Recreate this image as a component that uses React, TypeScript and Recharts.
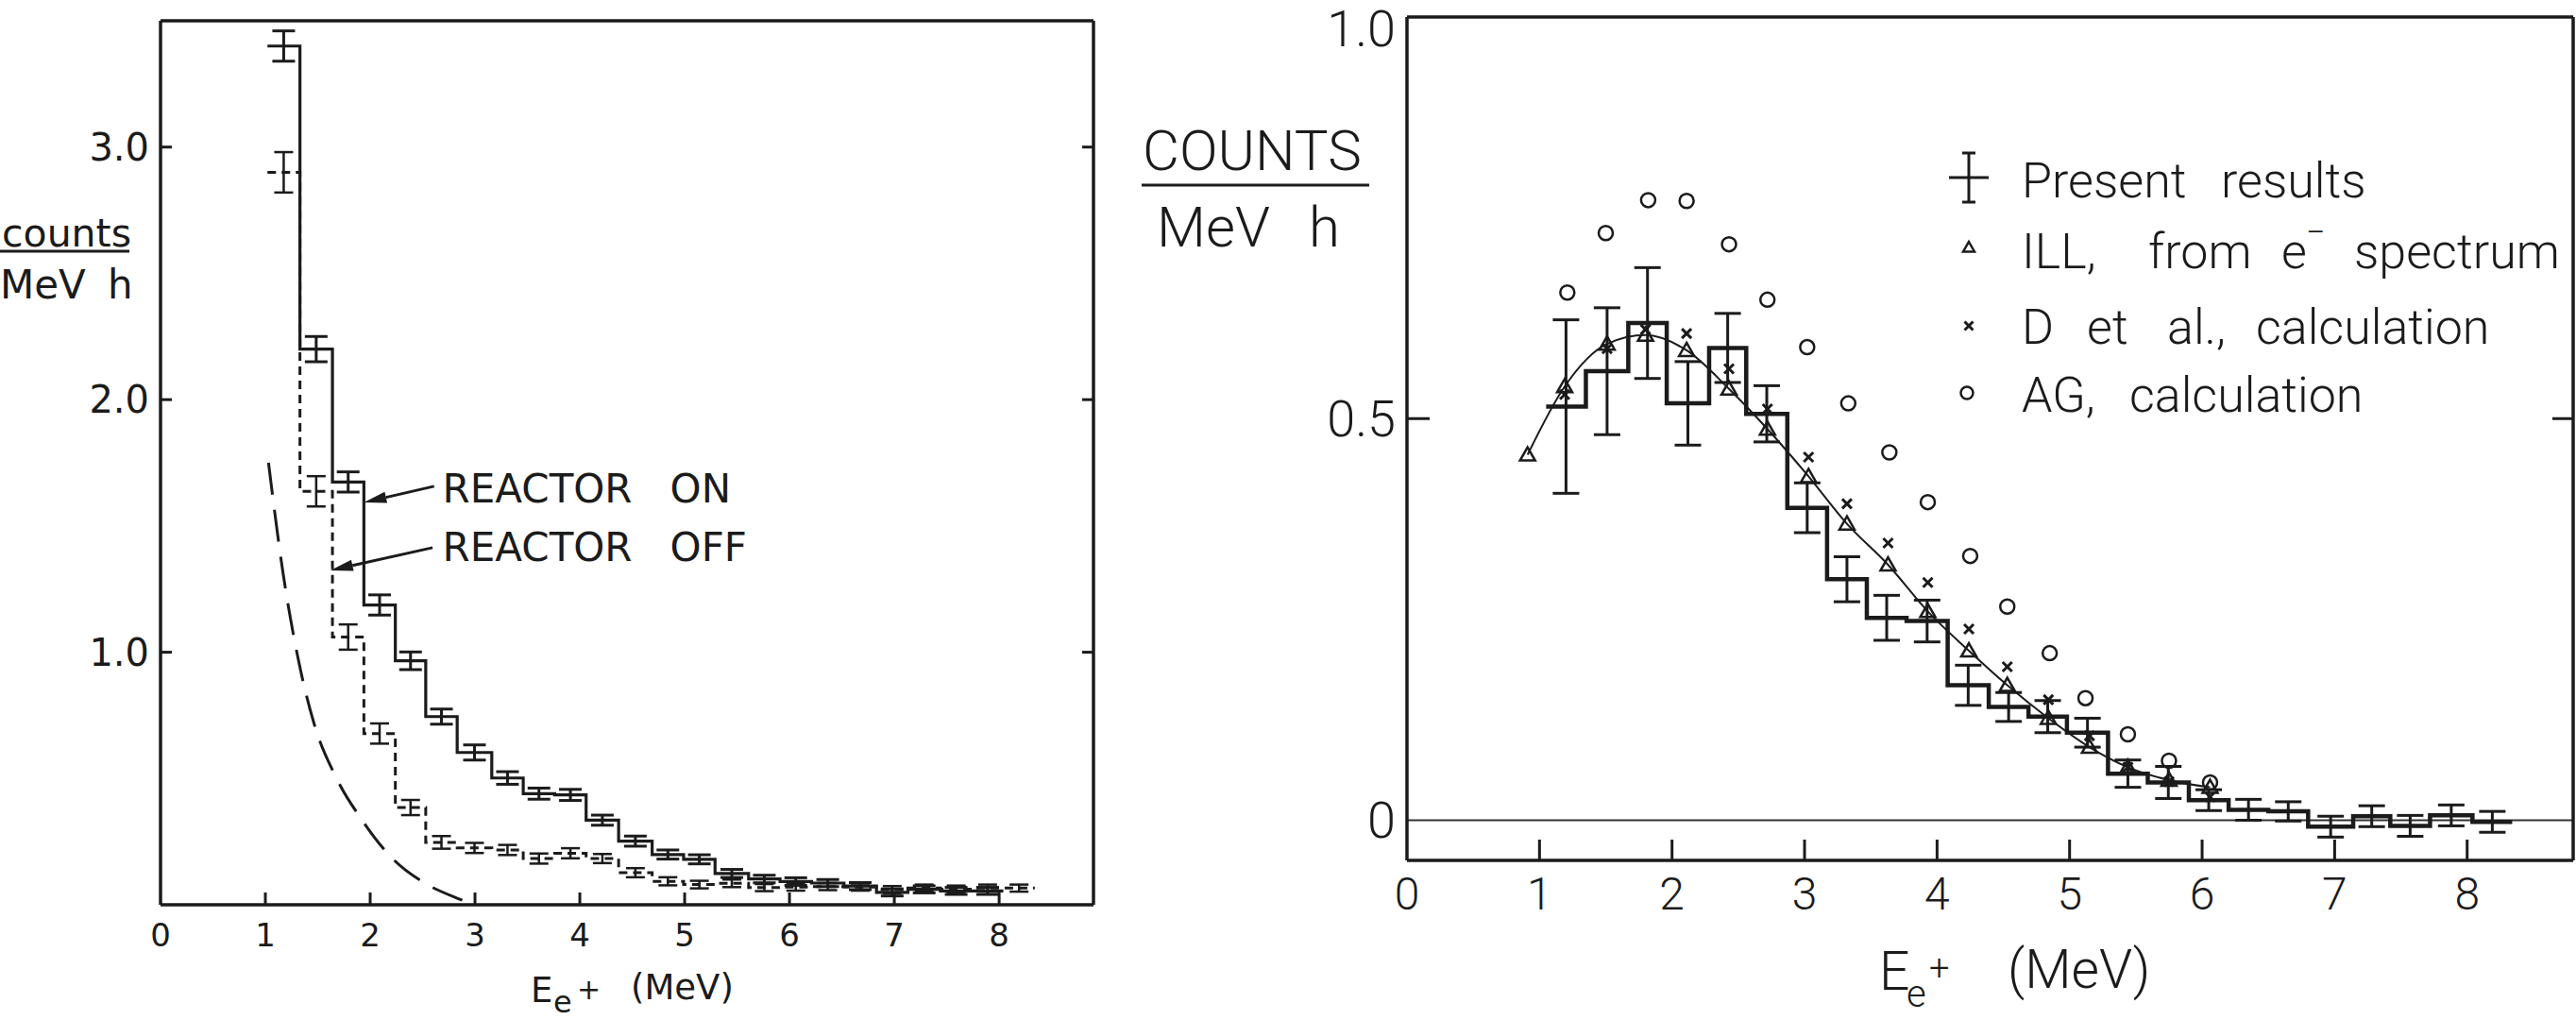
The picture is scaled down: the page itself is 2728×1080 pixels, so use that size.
import {
  ComposedChart,
  Line,
  Scatter,
  XAxis,
  YAxis,
  ErrorBar,
  ReferenceLine,
  ReferenceDot,
  Legend,
  Label,
} from "recharts"

const ink = "#1b1b1b"

// ---------- left panel: e+ spectra, reactor on / off ----------
const leftEdges = [1.02, 1.33, 1.64, 1.94, 2.24, 2.53, 2.83, 3.16, 3.46, 3.76, 4.06, 4.37, 4.69, 4.99, 5.29, 5.61, 5.91, 6.21, 6.52, 6.83, 7.13, 7.44, 7.74, 8.04, 8.34]
const reactorOn = [3.4, 2.2, 1.674, 1.187, 0.966, 0.745, 0.603, 0.502, 0.44, 0.435, 0.335, 0.252, 0.199, 0.18, 0.124, 0.102, 0.092, 0.086, 0.074, 0.049, 0.061, 0.055, 0.055]
const reactorOnErr = [0.06, 0.05, 0.04, 0.04, 0.035, 0.03, 0.03, 0.025, 0.022, 0.022, 0.02, 0.02, 0.018, 0.018, 0.016, 0.015, 0.015, 0.014, 0.014, 0.014, 0.014, 0.014, 0.014]
const reactorOff = [2.9, 1.637, 1.06, 0.678, 0.385, 0.247, 0.225, 0.217, 0.183, 0.204, 0.183, 0.127, 0.093, 0.08, 0.085, 0.068, 0.07, 0.072, 0.07, 0.06, 0.066, 0.062, 0.066, 0.066]
const reactorOffErr = [0.08, 0.06, 0.05, 0.04, 0.03, 0.025, 0.02, 0.02, 0.02, 0.02, 0.018, 0.018, 0.016, 0.015, 0.015, 0.014, 0.014, 0.014, 0.014, 0.014, 0.014, 0.014, 0.014, 0.014]
const bgX = [1.03, 1.17, 1.32, 1.47, 1.68, 1.92, 2.22, 2.52, 2.83, 3.0]
const bgY = [1.75, 1.31, 0.96, 0.71, 0.5, 0.337, 0.18, 0.086, 0.026, 0.0]
const leftXTicks = [0, 1, 2, 3, 4, 5, 6, 7, 8]
const leftYTicks = [1, 2, 3]

// ---------- right panel: comparison with calculations ----------
const rightEdges = [1.05, 1.35, 1.67, 1.96, 2.28, 2.56, 2.87, 3.17, 3.47, 3.77, 4.08, 4.39, 4.69, 4.98, 5.29, 5.59, 5.9, 6.2, 6.5, 6.8, 7.14, 7.42, 7.72, 8.04, 8.34]
const present = [0.515, 0.559, 0.619, 0.519, 0.588, 0.506, 0.389, 0.3, 0.252, 0.248, 0.168, 0.141, 0.129, 0.109, 0.058, 0.047, 0.025, 0.013, 0.011, -0.008, 0.005, -0.007, 0.006, -0.002]
const presentErr = [0.108, 0.079, 0.069, 0.052, 0.043, 0.035, 0.031, 0.028, 0.028, 0.026, 0.025, 0.018, 0.02, 0.018, 0.017, 0.02, 0.013, 0.013, 0.012, 0.013, 0.013, 0.013, 0.013, 0.013]
const illX = [0.91, 1.19, 1.51, 1.8, 2.11, 2.43, 2.72, 3.03, 3.32, 3.63, 3.93, 4.24, 4.53, 4.84, 5.15, 5.44, 5.75, 6.06]
const illY = [0.455, 0.54, 0.593, 0.604, 0.585, 0.537, 0.487, 0.428, 0.369, 0.318, 0.26, 0.211, 0.168, 0.127, 0.091, 0.066, 0.05, 0.041]
const detX = [1.19, 1.51, 1.8, 2.11, 2.43, 2.72, 3.03, 3.32, 3.63, 3.93, 4.24, 4.53, 4.84, 5.15, 5.44, 5.75, 6.06]
const detY = [0.53, 0.587, 0.611, 0.606, 0.562, 0.512, 0.452, 0.394, 0.345, 0.296, 0.238, 0.191, 0.15, 0.105, 0.066, 0.048, 0.029]
const agX = [1.21, 1.5, 1.82, 2.11, 2.43, 2.72, 3.02, 3.33, 3.64, 3.93, 4.25, 4.53, 4.85, 5.12, 5.44, 5.75, 6.06]
const agY = [0.657, 0.731, 0.772, 0.771, 0.717, 0.648, 0.589, 0.519, 0.458, 0.396, 0.329, 0.266, 0.208, 0.152, 0.107, 0.074, 0.047]
const rightXTicks = [0, 1, 2, 3, 4, 5, 6, 7, 8]
const rightYTicks = [0, 0.5, 1]

// histogram outline: one point per left edge, plus the last right edge
const steps = (edges: number[], vals: number[]) =>
  vals.map((y, i) => ({ x: edges[i], y })).concat({ x: edges[vals.length], y: vals[vals.length - 1] })
const bins = (edges: number[], vals: number[], errs: number[]) =>
  vals.map((y, i) => ({ x: (edges[i] + edges[i + 1]) / 2, y, err: errs[i] }))
const pairs = (xs: number[], ys: number[]) => xs.map((x, i) => ({ x, y: ys[i] }))

// ---------- ticks (drawn inward, labels outside) ----------
const bottomTick = (len: number, gap: number, size: number) => (p: any) => (
  <g>
    {p.payload.value !== 0 && (
      <line x1={p.x} y1={p.y} x2={p.x} y2={p.y - len} stroke={ink} strokeWidth={3} />
    )}
    <text x={p.x} y={p.y + gap} textAnchor="middle" fontSize={size} fill={ink}>
      {p.payload.value}
    </text>
  </g>
)
const topTick = (len: number) => (p: any) =>
  p.payload.value === 0 ? <g /> : <line x1={p.x} y1={p.y} x2={p.x} y2={p.y + len} stroke={ink} strokeWidth={3} />
const leftTick =
  (len: number, size: number, dy: (v: number) => number, fmt: (v: number) => string, lines: number[]) =>
  (p: any) => (
    <g>
      {lines.includes(p.payload.value) && (
        <line x1={p.x} y1={p.y} x2={p.x + len} y2={p.y} stroke={ink} strokeWidth={3} />
      )}
      <text x={p.x - 12} y={p.y + dy(p.payload.value)} textAnchor="end" fontSize={size} fill={ink}>
        {fmt(p.payload.value)}
      </text>
    </g>
  )
const rightTick = (len: number, lines: number[]) => (p: any) =>
  lines.includes(p.payload.value) ? (
    <line x1={p.x} y1={p.y} x2={p.x - len} y2={p.y} stroke={ink} strokeWidth={3} />
  ) : (
    <g />
  )

const frame = { stroke: ink, strokeWidth: 3.5 }

// ---------- marks ----------
const Tri = ({ cx, cy, s = 8 }: { cx: number; cy: number; s?: number }) => (
  <path
    d={`M${cx},${cy - s} L${cx + s},${cy + s * 0.75} L${cx - s},${cy + s * 0.75} Z`}
    fill="none"
    stroke={ink}
    strokeWidth={2.5}
  />
)
const Cross = ({ cx, cy, s = 5 }: { cx: number; cy: number; s?: number }) => (
  <path d={`M${cx - s},${cy - s} L${cx + s},${cy + s} M${cx - s},${cy + s} L${cx + s},${cy - s}`} stroke={ink} strokeWidth={3} />
)
const Ring = ({ cx, cy, r = 7.5 }: { cx: number; cy: number; r?: number }) => (
  <circle cx={cx} cy={cy} r={r} fill="none" stroke={ink} strokeWidth={2.5} />
)

const Arrow = (p: any) => {
  const { x1, y1, x2, y2 } = p
  const a = Math.atan2(y2 - y1, x2 - x1)
  const bx = x2 - 24 * Math.cos(a)
  const by = y2 - 24 * Math.sin(a)
  const nx = -Math.sin(a) * 6
  const ny = Math.cos(a) * 6
  return (
    <g>
      <line x1={x1} y1={y1} x2={bx} y2={by} stroke={ink} strokeWidth={3} />
      <polygon points={`${x2},${y2} ${bx + nx},${by + ny} ${bx - nx},${by - ny}`} fill={ink} />
    </g>
  )
}

const reactorText = (word: string) => (p: any) => (
  <text x={p.cx} y={p.cy} fontSize={42} fill={ink}>
    REACTOR
    <tspan x={p.cx + 241}>{word}</tspan>
  </text>
)

function LeftPanel() {
  return (
    <div style={{ position: "absolute", left: 0, top: 0, fontFamily: "'DejaVu Sans', sans-serif" }}>
      <ComposedChart width={1200} height={1080} margin={{ top: 0, right: 0, bottom: 0, left: 0 }}>
        <XAxis
          dataKey="x"
          type="number"
          domain={[0, 8.9]}
          allowDataOverflow
          ticks={leftXTicks}
          interval={0}
          height={122}
          tickSize={0}
          tickMargin={0}
          tickLine={false}
          axisLine={frame}
          tick={bottomTick(13, 44, 34)}
        >
          <Label
            content={(p: any) => {
              const { x, y } = p.viewBox
              return (
                <text fontSize={37} fill={ink}>
                  <tspan x={x + 392} y={y + 103}>E</tspan>
                  <tspan x={x + 416} y={y + 114} fontSize={32}>e</tspan>
                  <tspan x={x + 441} y={y + 100} fontSize={30}>+</tspan>
                  <tspan x={x + 498} y={y + 100}>(MeV)</tspan>
                </text>
              )
            }}
          />
        </XAxis>
        <XAxis
          xAxisId="top"
          orientation="top"
          type="number"
          domain={[0, 8.9]}
          allowDataOverflow
          ticks={leftXTicks}
          interval={0}
          height={22}
          tickSize={0}
          tickMargin={0}
          tickLine={false}
          axisLine={frame}
          tick={topTick(13)}
        />
        <YAxis
          type="number"
          domain={[0, 3.5]}
          allowDataOverflow
          ticks={leftYTicks}
          interval={0}
          width={170}
          tickSize={0}
          tickMargin={0}
          tickLine={false}
          axisLine={frame}
          tick={leftTick(12, 40, () => 14, (v) => v.toFixed(1), leftYTicks)}
        >
          <Label
            content={(p: any) => {
              const { x, y } = p.viewBox
              return (
                <g fill={ink}>
                  <text x={x + 2} y={y + 239} fontSize={41}>counts</text>
                  <line x1={x} y1={y + 244} x2={x + 137} y2={y + 244} stroke={ink} strokeWidth={3} />
                  <text x={x} y={y + 294} fontSize={42}>MeV</text>
                  <text x={x + 114} y={y + 294} fontSize={42}>h</text>
                </g>
              )
            }}
          />
        </YAxis>
        <YAxis
          yAxisId="right"
          orientation="right"
          type="number"
          domain={[0, 3.5]}
          allowDataOverflow
          ticks={leftYTicks}
          interval={0}
          width={42}
          tickSize={0}
          tickMargin={0}
          tickLine={false}
          axisLine={frame}
          tick={rightTick(12, leftYTicks)}
        />

        <Line
          data={pairs(bgX, bgY)}
          dataKey="y"
          type="monotone"
          stroke={ink}
          strokeWidth={3}
          strokeDasharray="34 16"
          dot={false}
          activeDot={false}
          isAnimationActive={false}
        />
        <Line
          data={steps(leftEdges, reactorOff)}
          dataKey="y"
          type="stepAfter"
          stroke={ink}
          strokeWidth={3}
          strokeDasharray="9 6"
          dot={false}
          activeDot={false}
          isAnimationActive={false}
        />
        <Line
          data={steps(leftEdges, reactorOn)}
          dataKey="y"
          type="stepAfter"
          stroke={ink}
          strokeWidth={3.2}
          dot={false}
          activeDot={false}
          isAnimationActive={false}
        />
        <Scatter data={bins(leftEdges, reactorOff, reactorOffErr)} dataKey="y" shape={() => <g />} isAnimationActive={false}>
          <ErrorBar dataKey="err" direction="y" width={10} stroke={ink} strokeWidth={2.5} isAnimationActive={false} />
        </Scatter>
        <Scatter data={bins(leftEdges, reactorOn, reactorOnErr)} dataKey="y" shape={() => <g />} isAnimationActive={false}>
          <ErrorBar dataKey="err" direction="y" width={12} stroke={ink} strokeWidth={3} isAnimationActive={false} />
        </Scatter>

        <ReferenceLine segment={[{ x: 2.61, y: 1.657 }, { x: 1.94, y: 1.593 }]} shape={Arrow} />
        <ReferenceLine segment={[{ x: 2.595, y: 1.414 }, { x: 1.62, y: 1.324 }]} shape={Arrow} />
        <ReferenceDot x={2.69} y={1.593} r={0} shape={reactorText("ON")} />
        <ReferenceDot x={2.69} y={1.361} r={0} shape={reactorText("OFF")} />
      </ComposedChart>
    </div>
  )
}

const LegendBox = () => (
  <svg width={680} height={320} style={{ display: "block" }}>
    <g stroke={ink} strokeWidth={3}>
      <line x1={45} y1={22} x2={45} y2={74} />
      <line x1={38} y1={22} x2={52} y2={22} />
      <line x1={38} y1={74} x2={52} y2={74} />
      <line x1={24} y1={48} x2={66} y2={48} />
    </g>
    <Tri cx={45} cy={122} s={6} />
    <Cross cx={45} cy={205} s={4.5} />
    <Ring cx={43} cy={276} r={6.5} />
    <g fontSize={52} fill={ink}>
      <text y={69}>
        <tspan x={101}>Present</tspan>
        <tspan x={312}>results</tspan>
      </text>
      <text y={144}>
        <tspan x={101}>ILL,</tspan>
        <tspan x={235}>from</tspan>
        <tspan x={376}>e</tspan>
        <tspan x={402} y={118} fontSize={36}>−</tspan>
        <tspan x={453} y={144}>spectrum</tspan>
      </text>
      <text y={224}>
        <tspan x={101}>D</tspan>
        <tspan x={170}>et</tspan>
        <tspan x={255}>al.,</tspan>
        <tspan x={349}>calculation</tspan>
      </text>
      <text y={296}>
        <tspan x={101}>AG,</tspan>
        <tspan x={215}>calculation</tspan>
      </text>
    </g>
  </svg>
)

function RightPanel() {
  return (
    <div style={{ position: "absolute", left: 1180, top: 0, fontFamily: "Roboto, sans-serif", fontWeight: 300 }}>
      <ComposedChart width={1548} height={1080} margin={{ top: 0, right: 0, bottom: 0, left: 0 }}>
        <XAxis
          dataKey="x"
          type="number"
          domain={[0, 8.8]}
          allowDataOverflow
          ticks={rightXTicks}
          interval={0}
          height={169}
          tickSize={0}
          tickMargin={0}
          tickLine={false}
          axisLine={frame}
          tick={bottomTick(22, 52, 48)}
        >
          <Label
            content={(p: any) => {
              const { x, y } = p.viewBox
              return (
                <text fontSize={57} fill={ink}>
                  <tspan x={x + 500} y={y + 137}>E</tspan>
                  <tspan x={x + 529} y={y + 155} fontSize={40}>e</tspan>
                  <tspan x={x + 553} y={y + 127} fontSize={38}>+</tspan>
                  <tspan x={x + 636} y={y + 135}>(MeV)</tspan>
                </text>
              )
            }}
          />
        </XAxis>
        <XAxis
          xAxisId="top"
          orientation="top"
          type="number"
          domain={[0, 8.8]}
          allowDataOverflow
          ticks={rightXTicks}
          interval={0}
          height={18}
          tickSize={0}
          tickMargin={0}
          tickLine={false}
          axisLine={frame}
          tick={topTick(20)}
        />
        <YAxis
          type="number"
          domain={[-0.05, 1]}
          allowDataOverflow
          ticks={rightYTicks}
          interval={0}
          width={310}
          tickSize={0}
          tickMargin={0}
          tickLine={false}
          axisLine={frame}
          tick={leftTick(24, 54, (v) => (v === 1 ? 31 : 19), (v) => (v === 0 ? "0" : v.toFixed(1)), [0.5])}
        >
          <Label
            content={(p: any) => {
              const { x, y } = p.viewBox
              return (
                <g fill={ink}>
                  <text x={x + 30} y={y + 162} fontSize={60}>COUNTS</text>
                  <line x1={x + 29} y1={y + 178} x2={x + 270} y2={y + 178} stroke={ink} strokeWidth={3} />
                  <text x={x + 45} y={y + 243} fontSize={60}>MeV</text>
                  <text x={x + 206} y={y + 243} fontSize={60}>h</text>
                </g>
              )
            }}
          />
        </YAxis>
        <YAxis
          yAxisId="right"
          orientation="right"
          type="number"
          domain={[-0.05, 1]}
          allowDataOverflow
          ticks={rightYTicks}
          interval={0}
          width={3}
          tickSize={0}
          tickMargin={0}
          tickLine={false}
          axisLine={frame}
          tick={rightTick(22, [0.5])}
        />

        <ReferenceLine y={0} stroke="#333" strokeWidth={2} />
        <Line
          data={steps(rightEdges, present)}
          dataKey="y"
          type="stepAfter"
          stroke={ink}
          strokeWidth={4.5}
          dot={false}
          activeDot={false}
          isAnimationActive={false}
        />
        <Scatter data={bins(rightEdges, present, presentErr)} dataKey="y" shape={() => <g />} isAnimationActive={false}>
          <ErrorBar dataKey="err" direction="y" width={14} stroke={ink} strokeWidth={3} isAnimationActive={false} />
        </Scatter>
        <Line
          data={pairs(illX, illY)}
          dataKey="y"
          type="monotone"
          stroke={ink}
          strokeWidth={2}
          dot={(p: any) => <Tri key={`t${p.index}`} cx={p.cx} cy={p.cy} />}
          activeDot={false}
          isAnimationActive={false}
        />
        <Scatter
          data={pairs(detX, detY)}
          dataKey="y"
          shape={(p: any) => <Cross cx={p.cx} cy={p.cy} />}
          isAnimationActive={false}
        />
        <Scatter
          data={pairs(agX, agY)}
          dataKey="y"
          shape={(p: any) => <Ring cx={p.cx} cy={p.cy} />}
          isAnimationActive={false}
        />
        <Legend
          layout="vertical"
          align="center"
          verticalAlign="middle"
          wrapperStyle={{ position: "absolute", left: 860, top: 140, width: 680, height: 320 }}
          content={() => <LegendBox />}
        />
      </ComposedChart>
    </div>
  )
}

export default function App() {
  return (
    <div style={{ position: "absolute", left: 0, top: 0, width: 2728, height: 1080, background: "#fff", overflow: "hidden" }}>
      <LeftPanel />
      <RightPanel />
    </div>
  )
}
